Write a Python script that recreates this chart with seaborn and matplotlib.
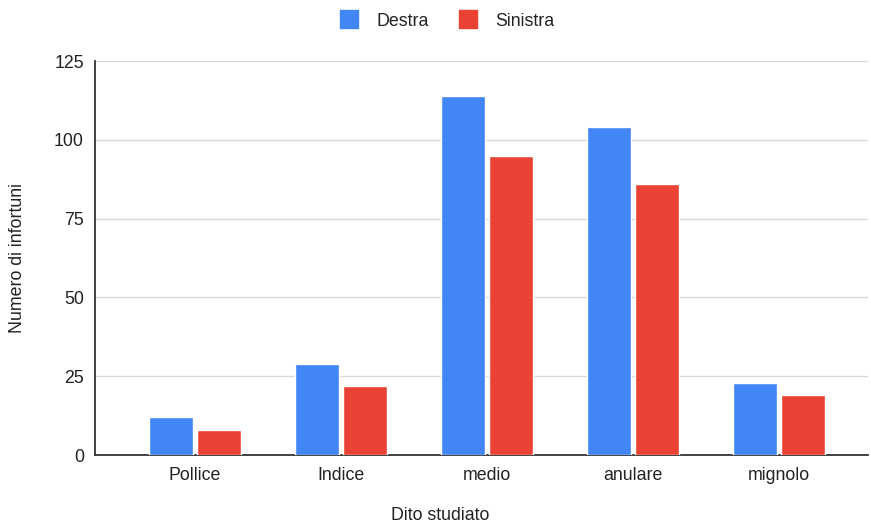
import matplotlib
matplotlib.use("Agg")
import matplotlib.pyplot as plt
import seaborn as sns
import pandas as pd
from matplotlib.lines import Line2D

# Injuries per finger, split by hand
fingers = ["Pollice", "Indice", "medio", "anulare", "mignolo"]
destra = [12, 29, 114, 104, 23]
sinistra = [8, 22, 95, 86, 19]
series_names = ["Destra", "Sinistra"]
y_ticks = [0, 25, 50, 75, 100, 125]

df = pd.DataFrame({
    "Dito": fingers * 2,
    "Mano": [series_names[0]] * len(fingers) + [series_names[1]] * len(fingers),
    "Valore": destra + sinistra,
})

sns.set_theme(style="white")
plt.rcParams["font.family"] = ["Liberation Sans", "DejaVu Sans"]

FS = 12.8
TEXT = "#222222"

fig = plt.figure(figsize=(8.71, 5.25), dpi=100)
ax = fig.add_axes([95 / 871, 1 - 455 / 525, (868 - 95) / 871, (455 - 61) / 525])

palette = {"Destra": "#4285F4", "Sinistra": "#EA4335"}
sns.barplot(data=df, x="Dito", y="Valore", hue="Mano", order=fingers,
            hue_order=series_names, palette=palette, width=0.66, gap=0.09,
            saturation=1, ax=ax, legend=False, zorder=3)

ax.set_ylim(0, 125)
ax.set_yticks(y_ticks)
ax.set_xlim(-0.685, 4.61)
ax.grid(axis="y", color="#d9d9d9", linewidth=1, zorder=0)
ax.grid(axis="x", visible=False)
for side in ["top", "right"]:
    ax.spines[side].set_visible(False)
for side in ["left", "bottom"]:
    ax.spines[side].set_color("#333333")
    ax.spines[side].set_linewidth(1.3)
ax.tick_params(axis="both", length=0, labelsize=FS, colors=TEXT)
ax.tick_params(axis="y", pad=8)
ax.tick_params(axis="x", pad=9)

ax.set_xlabel("")
ax.set_ylabel("")
fig.text(440 / 871, 1 - 515 / 525, "Dito studiato", ha="center", va="center",
         fontsize=FS, color=TEXT)
fig.text(18 / 871, 1 - 258 / 525, "Numero di infortuni", ha="center", va="center",
         rotation=90, fontsize=FS, color=TEXT)

# Legend on top, centred
handles = [Line2D([], [], marker="s", linestyle="", markersize=13.5,
                  markerfacecolor=palette[n], markeredgecolor=palette[n]) for n in series_names]
fig.legend(handles, series_names, loc="center", bbox_to_anchor=(443 / 871, 1 - 21 / 525),
           ncol=2, frameon=False, fontsize=FS, handletextpad=0.55, columnspacing=1.2,
           labelcolor=TEXT)

fig.savefig("out.png", dpi=100)
